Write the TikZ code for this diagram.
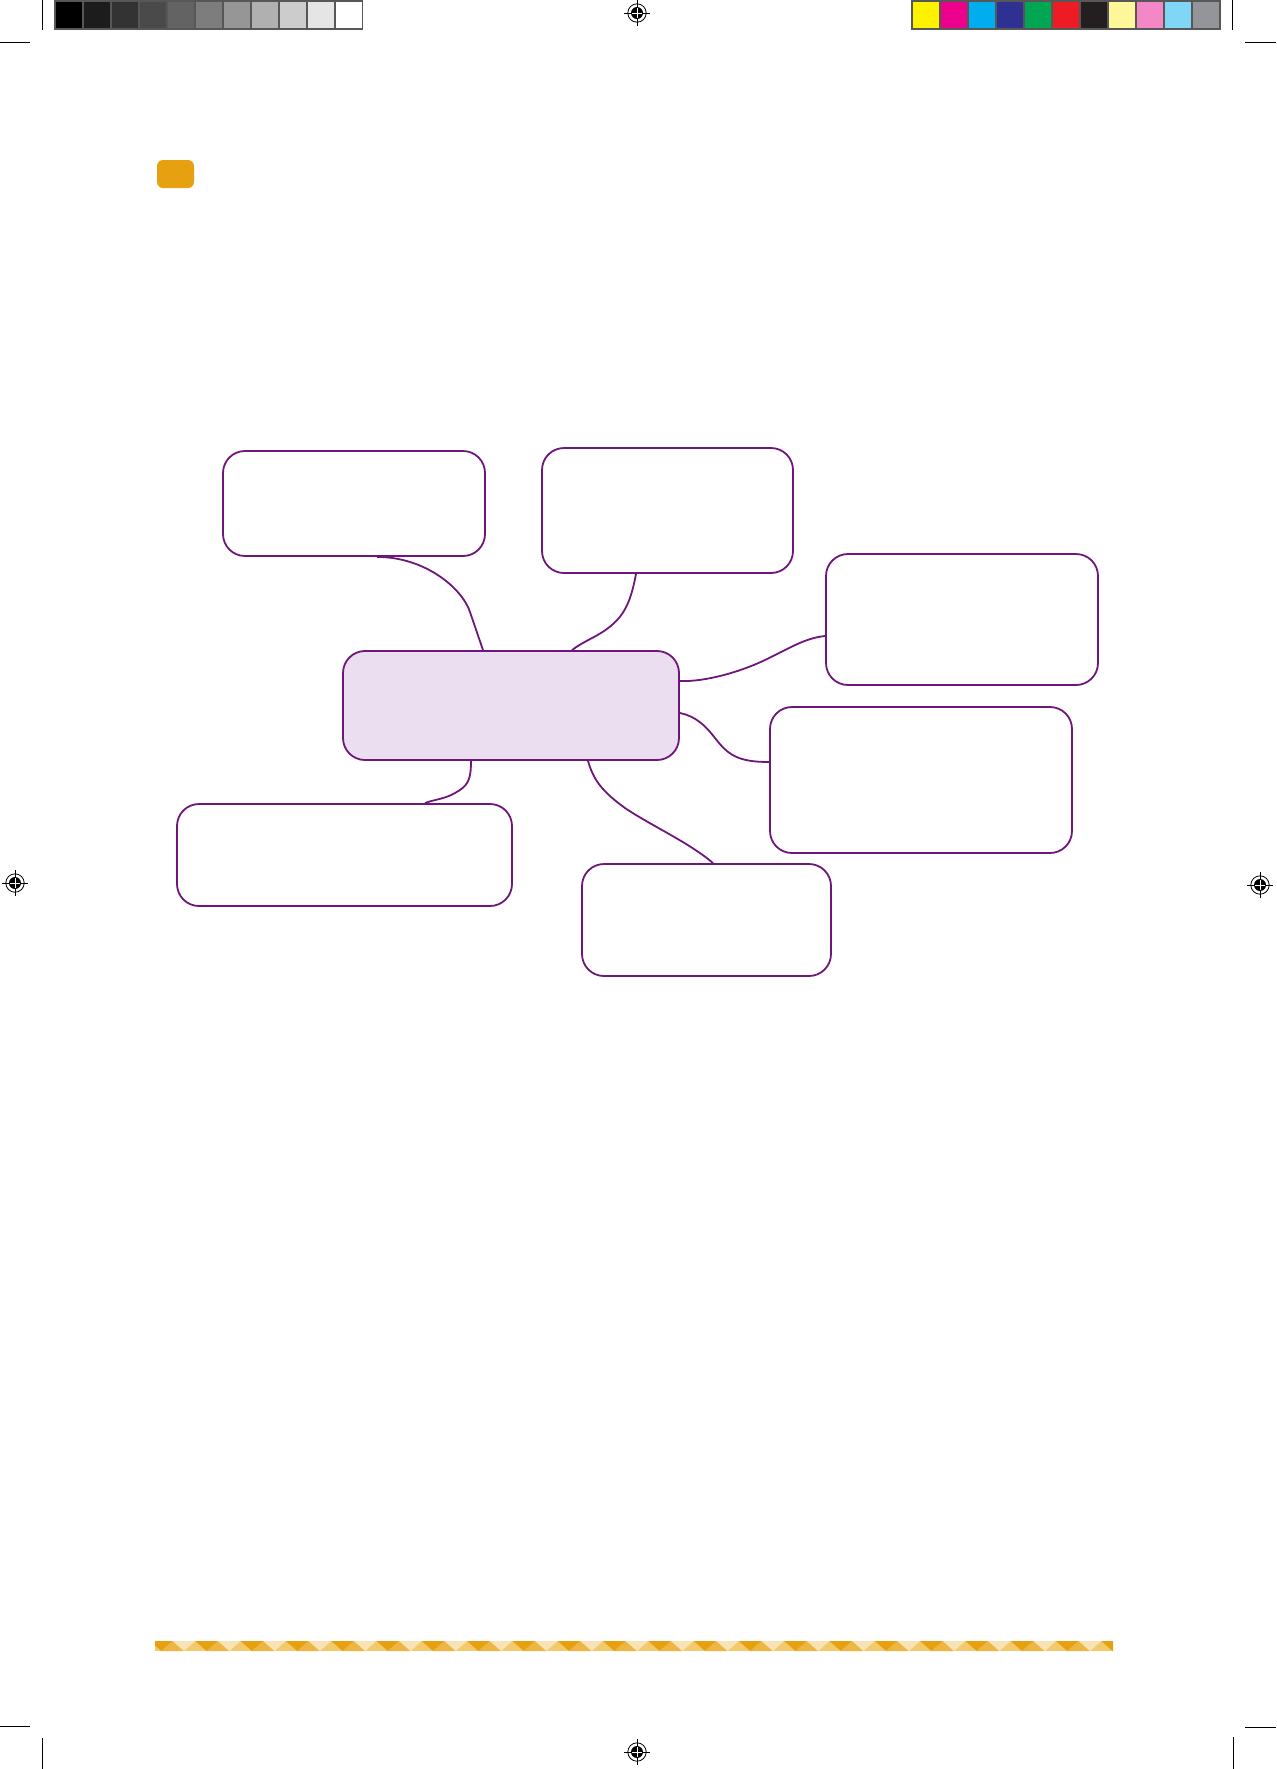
\documentclass[tikz,border=0pt]{standalone}
\usepackage{tikz}
\usetikzlibrary{positioning}
\definecolor{mindline}{RGB}{110,22,122}
\definecolor{mindfill}{RGB}{235,222,240}
\definecolor{tabamber}{RGB}{231,161,16}
\definecolor{stripmid}{RGB}{237,181,67}
\definecolor{striplight}{RGB}{243,201,110}
\definecolor{stripwhite}{RGB}{248,227,181}
\definecolor{barframe}{RGB}{87,87,87}
\definecolor{inkY}{RGB}{255,242,0}
\definecolor{inkM}{RGB}{236,0,140}
\definecolor{inkC}{RGB}{0,174,239}
\definecolor{inkB}{RGB}{46,49,146}
\definecolor{inkG}{RGB}{0,166,81}
\definecolor{inkR}{RGB}{237,28,36}
\definecolor{inkK}{RGB}{35,31,32}
\definecolor{inkLY}{RGB}{255,247,153}
\definecolor{inkLM}{RGB}{244,135,198}
\definecolor{inkLC}{RGB}{127,214,247}
\definecolor{inkGr}{RGB}{147,149,152}
\tikzset{bubble/.style={draw=mindline, line width=.9pt, rounded corners=11pt, inner sep=0pt}}
\tikzset{link/.style={draw=mindline, line width=.9pt}}
\tikzset{crop/.style={line width=.5pt}}

\begin{document}
\begin{tikzpicture}[x=0.5pt,y=-0.5pt]
  \useasboundingbox (0,0) rectangle (1276,1769);

  % crop marks
  \draw[crop] (42,0)--(42,30);
  \draw[crop] (0,42)--(30,42);
  \draw[crop] (1232,0)--(1232,30);
  \draw[crop] (1245,42)--(1276,42);
  \draw[crop] (0,1726)--(30,1726);
  \draw[crop] (42,1738)--(42,1769);
  \draw[crop] (1245,1727)--(1276,1727);
  \draw[crop] (1233,1737)--(1233,1769);

  % control strips
  \fill[barframe] (54,0) rectangle (363,30);
  \foreach \g [count=\i from 0] in {100,89,80,71,61,51,41,31,20,10,0}{
               \fill[black!\g] ({56+28*\i},2) rectangle ({82+28*\i},28);
  };
  \fill[barframe] (911,0) rectangle (1221,30);
  \foreach \c [count=\i from 0] in {inkY,inkM,inkC,inkB,inkG,inkR,inkK,inkLY,inkLM,inkLC,inkGr}{
               \fill[\c] ({913+28*\i},2) rectangle ({939+28*\i},28);
  };

  % registration marks
  \foreach \x/\y in {637/13, 15/883, 1260/885, 637/1752}{
               \draw[line width=.4pt] (\x,\y) circle[radius=4.6pt];
               \fill (\x,\y) circle[radius=3pt];
               \draw[line width=.4pt] (\x-13,\y)--(\x+13,\y);
               \draw[line width=.4pt] (\x,\y-13)--(\x,\y+13);
               \draw[white, line width=.3pt] (\x-5,\y)--(\x+5,\y);
               \draw[white, line width=.3pt] (\x,\y-5)--(\x,\y+5);
  };

  \fill[tabamber, rounded corners=3pt] (157,160) rectangle (194,188);

  % mind map
  \node[bubble, fill=mindfill, minimum width=168pt, minimum height=54.5pt] (hub) at (511,705.5) {};
  \node[bubble, minimum width=131pt, minimum height=52.5pt] (twigA) at (354,503.5) {};
  \node[bubble, minimum width=125.5pt, minimum height=62.5pt] (twigB) at (667.5,510.5) {};
  \node[bubble, minimum width=136pt, minimum height=65.5pt] (twigC) at (962,619.5) {};
  \node[bubble, minimum width=151pt, minimum height=73pt] (twigD) at (921,780) {};
  \node[bubble, minimum width=124.5pt, minimum height=56pt] (twigE) at (706.5,920) {};
  \node[bubble, minimum width=167.5pt, minimum height=51pt] (twigF) at (344.5,855) {};

  \draw[link] (twigA.south -| 377,0) .. controls (425,557) and (462,588) .. (470,612) -- (hub.north -| 483,0);
  \draw[link] (twigB.south -| 636,0) .. controls (632,595) and (627,612) .. (613,624)
              .. controls (600,636) and (585,640) .. (hub.north -| 572,0);
  \draw[link] (hub.east |- 0,681) .. controls (705,682) and (740,672) .. (765,660)
              .. controls (790,648) and (805,638) .. (twigC.west |- 0,636);
  \draw[link] (hub.east |- 0,713) .. controls (695,716) and (705,725) .. (715,738)
              .. controls (728,755) and (738,762) .. (twigD.west |- 0,762);
  \draw[link] (hub.south -| 471,0) .. controls (471,780) and (468,786) .. (455,793)
              .. controls (445,799) and (432,800) .. (twigF.north -| 425,0);
  \draw[link] (hub.south -| 588,0) .. controls (593,778) and (600,790) .. (625,808)
              .. controls (650,825) and (690,843) .. (twigE.north -| 713,0);

  % footer stripe
  \begin{scope}
    \clip (155,1641) rectangle (1113,1651);
    \fill[striplight] (155,1641) rectangle (1113,1651);
    \foreach \k in {0,...,21}{
               \pgfmathsetmacro{\xo}{150+45.3*\k}
               \fill[tabamber] (\xo,1641)--(\xo+22.65,1641)--(\xo+11.33,1651)--cycle;
               \fill[stripmid] (\xo+11.33,1651)--(\xo+22.65,1641)--(\xo+33.98,1651)--cycle;
               \fill[stripwhite] (\xo+22.65,1641)--(\xo+45.3,1641)--(\xo+33.98,1651)--cycle;
    };
  \end{scope}
\end{tikzpicture}
\end{document}
